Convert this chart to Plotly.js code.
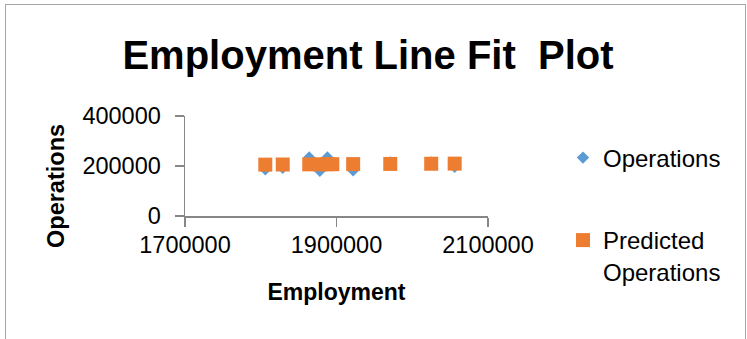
<!DOCTYPE html>
<html>
<head>
<meta charset="utf-8">
<script src="https://cdn.plot.ly/plotly-3.0.1.min.js"></script>
<style>
  html, body { margin: 0; padding: 0; background: #fff; }
  #wrap { position: relative; width: 747px; height: 339px; overflow: hidden; }
  #chart { width: 747px; height: 339px; }
  #frame { position: absolute; left: 5px; top: 4px; width: 739px; height: 340px;
           border-top: 1.5px solid #a6a6a6; border-left: 1.5px solid #a6a6a6; border-right: 1.5px solid #a6a6a6;
           pointer-events: none; }
</style>
</head>
<body>
<div id="wrap">
  <div id="chart"></div>
  <div id="frame"></div>
</div>
<script>
// ---- data ----
const chartTitle = "Employment Line Fit \u00a0Plot";
const xTitle = "Employment";
const yTitle = "Operations";
const seriesNames = ["Operations", "Predicted<br>Operations"];
const employment = [1806000, 1829000, 1864000, 1878000, 1888000, 1894500, 1922000, 1971000, 2025000, 2056000];
const operations = [187000, 193000, 234000, 181000, 234000, 207000, 183000, 214500, 214000, 197000];
const predicted  = [205500, 206000, 206600, 206900, 207100, 207200, 207600, 208300, 209000, 209500];
const xTicks = [1700000, 1900000, 2100000];
const yTicks = [0, 200000, 400000];

const font = "'Liberation Sans', Arial, sans-serif";

const traces = [
  {
    type: "scatter", mode: "markers", name: seriesNames[0],
    x: employment, y: operations, legend: "legend",
    marker: { symbol: "diamond", size: 9.5, color: "#5B9BD5" }
  },
  {
    type: "scatter", mode: "markers", name: seriesNames[1],
    x: employment, y: predicted, legend: "legend2",
    marker: { symbol: "square", size: 14, color: "#ED7D31" }
  }
];

const axisLine = "#878787";
const layout = {
  width: 747, height: 339,
  margin: { l: 185, r: 259, t: 116, b: 123 },
  paper_bgcolor: "#fff", plot_bgcolor: "#fff",
  font: { family: font, color: "#000", size: 23 },
  title: {
    text: chartTitle, xref: "container", yref: "container",
    x: 368 / 747, xanchor: "center", y: 1 - 55 / 339, yanchor: "middle",
    font: { family: font, size: 40, weight: "bold", color: "#000" }
  },
  xaxis: {
    range: [1700000, 2100000], tickvals: xTicks, ticktext: xTicks.map(String),
    showline: true, linecolor: axisLine, linewidth: 1.5, mirror: false,
    ticks: "outside", ticklen: 9, tickwidth: 1.5, tickcolor: axisLine,
    ticklabelstandoff: -2,
    showgrid: false, zeroline: false, fixedrange: true,
    tickfont: { family: font, size: 23.5, color: "#000" },
    title: { text: xTitle, font: { family: font, size: 23, weight: "bold", color: "#000" }, standoff: 27 }
  },
  yaxis: {
    range: [0, 400000], tickvals: yTicks, ticktext: yTicks.map(String),
    showline: true, linecolor: axisLine, linewidth: 1.5,
    ticks: "outside", ticklen: 9, tickwidth: 1.5, tickcolor: axisLine,
    ticklabelstandoff: 9,
    showgrid: false, zeroline: false, fixedrange: true,
    tickfont: { family: font, size: 23.5, color: "#000" }
  },
  annotations: [
    {
      text: yTitle, xref: "paper", yref: "paper",
      x: (56 - 185) / 303, y: (216 - 186) / 100, xanchor: "center", yanchor: "middle",
      textangle: -90, showarrow: false,
      font: { family: font, size: 23.5, weight: "bold", color: "#000" }
    }
  ],
  legend: {
    x: (563 - 185) / 303, xanchor: "left", y: (216 - 158) / 100, yanchor: "middle",
    bgcolor: "rgba(0,0,0,0)", font: { family: font, size: 24, color: "#000" }
  },
  legend2: {
    x: (563 - 185) / 303, xanchor: "left", y: (216 - 218) / 100, yanchor: "top",
    valign: "top",
    bgcolor: "rgba(0,0,0,0)", font: { family: font, size: 24, color: "#000" }
  },
  showlegend: true
};

Plotly.newPlot("chart", traces, layout, { displayModeBar: false, staticPlot: true });
</script>
</body>
</html>
